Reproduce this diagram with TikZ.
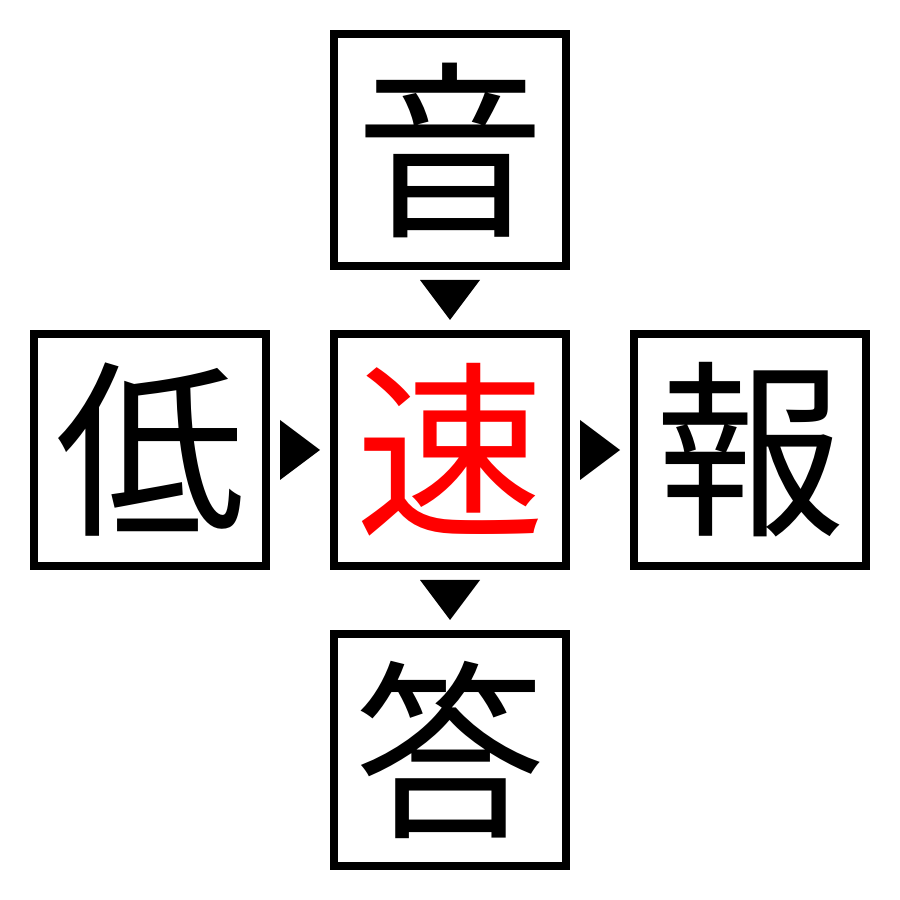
\documentclass[tikz,border=0pt]{standalone}
\usepackage{fontspec}
\newfontfamily\cjk{Noto Sans CJK JP}
\usetikzlibrary{positioning,calc}
\begin{document}
\begin{tikzpicture}[node distance=0.6cm]
\useasboundingbox (0,0) rectangle (9,9);
\tikzset{charbox/.style={draw, line width=0.08cm, minimum size=2.32cm, inner sep=0pt,
  font=\cjk\fontsize{54}{54}\selectfont}}
\tikzset{tri/.style={fill=black}}

\node [charbox, text=red] (su) at (4.5,4.5) {速};
\node [charbox, above=of su] (on) {音};
\node [charbox, left=of su] (tei) {低};
\node [charbox, right=of su] (hou) {報};
\node [charbox, below=of su] (tou) {答};

% triangles between boxes
\coordinate (t1) at ($(on.south)!0.5!(su.north)$);
\coordinate (t2) at ($(su.south)!0.5!(tou.north)$);
\coordinate (t3) at ($(tei.east)!0.5!(su.west)$);
\coordinate (t4) at ($(su.east)!0.5!(hou.west)$);
\foreach \c in {t1,t2} \fill [tri] ([shift={(-0.3,0.2)}]\c) -- ([shift={(0.3,0.2)}]\c) -- ([shift={(0,-0.2)}]\c) -- cycle;
\foreach \c in {t3,t4} \fill [tri] ([shift={(-0.2,0.3)}]\c) -- ([shift={(-0.2,-0.3)}]\c) -- ([shift={(0.2,0)}]\c) -- cycle;
\end{tikzpicture}
\end{document}
